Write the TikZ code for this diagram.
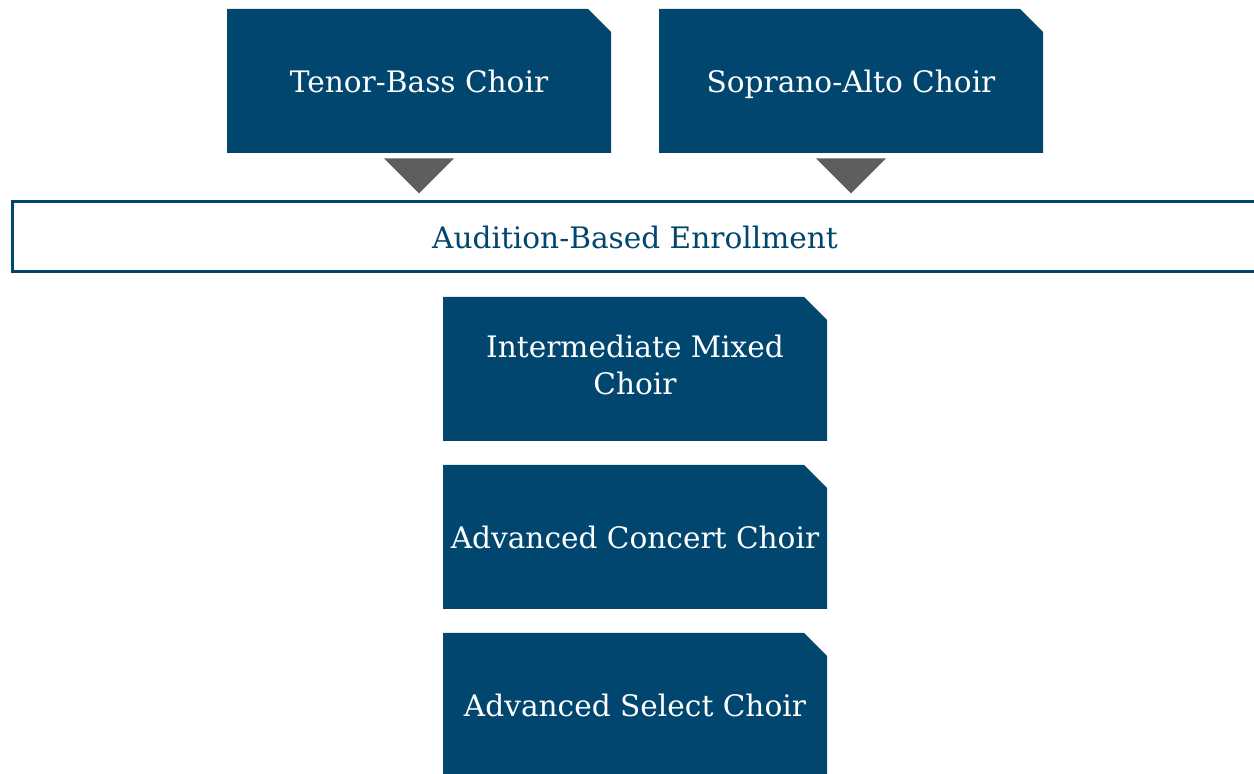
\documentclass[tikz,border=0pt]{standalone}
\usepackage{fontspec}
\setmainfont{DejaVu Serif}
\definecolor{choirblue}{RGB}{0,70,110}
\definecolor{arrowgray}{RGB}{94,94,94}
\newcommand\choirstrut{\rule[-4.6pt]{0pt}{20.6pt}}
\tikzset{
  choir/.style={rectangle, text=white, inner sep=0pt, align=center,
    minimum width=192pt, minimum height=72pt, font=\fontsize{14.8}{18.5}\selectfont,
    execute at begin node=\choirstrut, execute at end node=\choirstrut,
    path picture={\fill[choirblue] (path picture bounding box.south west)
      -- (path picture bounding box.north west)
      -- ([xshift=-11.5pt]path picture bounding box.north east)
      -- ([yshift=-11.5pt]path picture bounding box.north east)
      -- (path picture bounding box.south east) -- cycle;}},
  enrollbar/.style={draw=choirblue, line width=1.5pt, text=choirblue, fill=white,
    minimum width=623pt, minimum height=35pt, inner sep=0pt,
    font=\fontsize{14.8}{18.5}\selectfont},
  arrowtri/.style={fill=arrowgray}
}
\begin{document}
\begin{tikzpicture}[x=0.5pt,y=-0.5pt]% choir pathway

\useasboundingbox (0,0) rectangle (1254,774);
\clip (0,0) rectangle (1254,774);

\node[choir] (tenor) at (419,81) {Tenor-Bass Choir};
\node[choir] (soprano) at (851,81) {Soprano-Alto Choir};
\node[enrollbar] (enroll) at (635,237) {Audition-Based Enrollment};
\node[choir] (mixed) at (635,369) {Intermediate Mixed\\Choir};
\node[choir] (concert) at (635,537) {Advanced Concert Choir};
\node[choir] (select) at (635,705) {Advanced Select Choir};

% arrows down to the enrollment bar
\foreach \src in {tenor,soprano}
    \fill[arrowtri] (\src.south) ++(-35,5) -- ++(70,0) -- ++(-35,35) -- cycle;

\end{tikzpicture}
\end{document}
